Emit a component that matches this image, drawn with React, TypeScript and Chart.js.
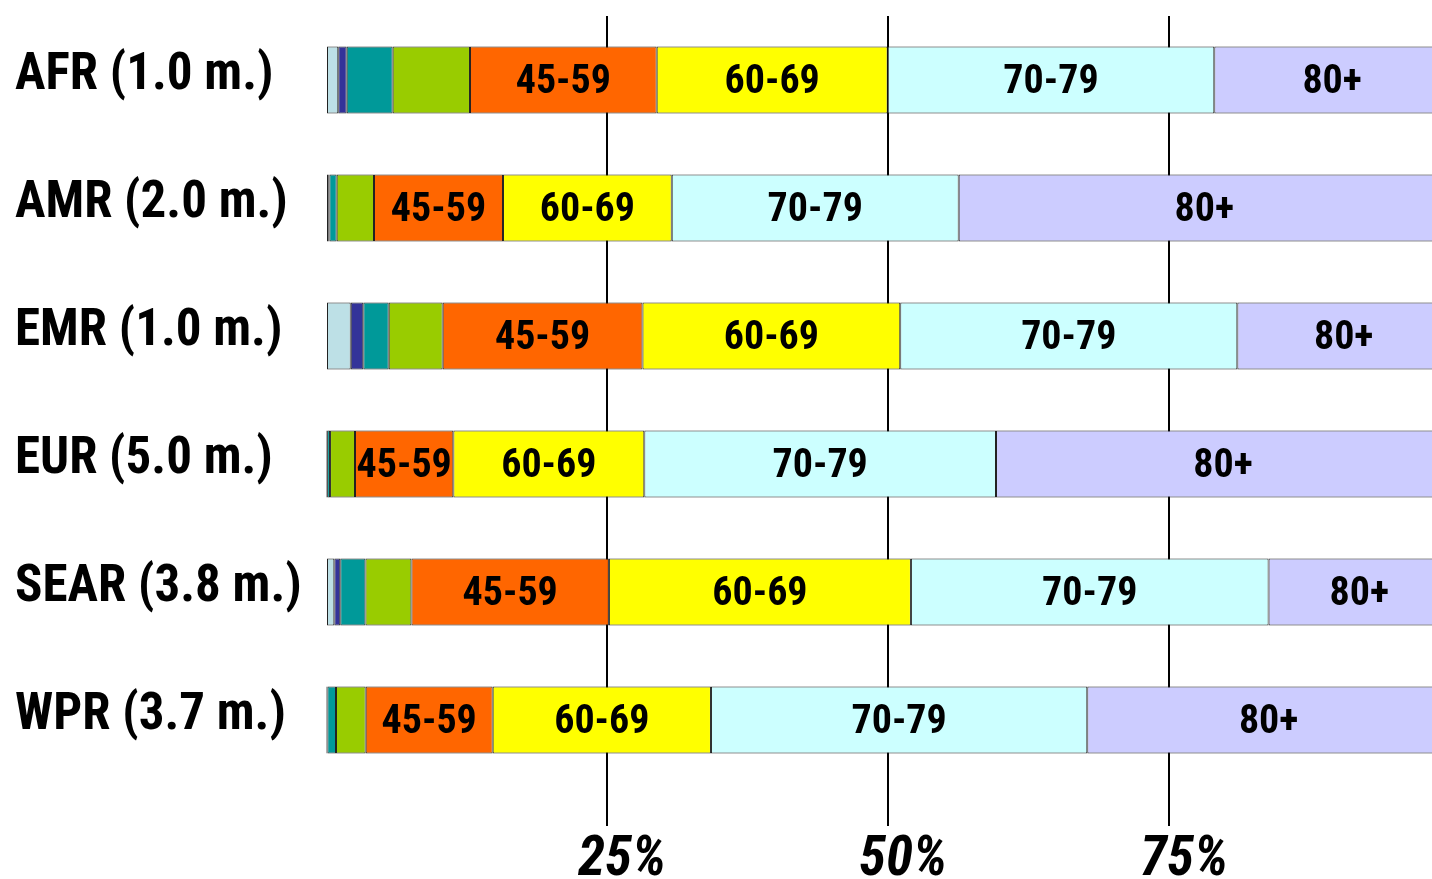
import React, { useEffect, useRef } from 'react';
import { Chart, registerables } from 'chart.js';

Chart.register(...registerables);

// Regions (deaths in millions) and age groups
const regions = ['AFR (1.0 m.)', 'AMR (2.0 m.)', 'EMR (1.0 m.)', 'EUR (5.0 m.)', 'SEAR (3.8 m.)', 'WPR (3.7 m.)'];
const ageGroups = ['0-4', '5-14', '15-29', '30-44', '45-59', '60-69', '70-79', '80+'];
const labeledGroups = ['45-59', '60-69', '70-79', '80+'];

// Percentage share of each age group, per region (AFR, AMR, EMR, EUR, SEAR, WPR)
const share0to4 = [1.09, 0.2, 2.2, 0.05, 0.74, 0.05];
const share5to14 = [0.75, 0.1, 1.12, 0.05, 0.53, 0.07];
const share15to29 = [4.09, 0.65, 2.26, 0.26, 2.24, 0.77];
const share30to44 = [6.88, 3.32, 4.8, 2.22, 4.09, 2.64];
const share45to59 = [16.61, 11.48, 17.78, 8.75, 17.57, 11.3];
const share60to69 = [20.55, 15.01, 22.93, 16.99, 26.87, 19.42];
const share70to79 = [29.06, 25.53, 29.99, 31.29, 31.82, 33.48];
const share80plus = [20.97, 43.71, 18.92, 40.39, 16.13, 32.27];

const groupColors = ['#BDE0E6', '#333399', '#009999', '#99CC00', '#FF6600', '#FFFF00', '#CCFFFF', '#CCCCFF'];
const xTickValues = [25, 50, 75];

const FONT = "'Roboto Condensed', 'Liberation Sans Narrow', 'Arial Narrow', 'Noto Sans', sans-serif";
const WEIGHT = 'bold condensed';

const segmentLabels = {
  id: 'segmentLabels',
  afterDatasetsDraw(chart: any) {
    const ctx = chart.ctx;
    ctx.save();
    ctx.font = `${WEIGHT} 40px ${FONT}`;
    ctx.fillStyle = '#000';
    ctx.textAlign = 'center';
    ctx.textBaseline = 'middle';
    chart.data.datasets.forEach((ds: any, i: number) => {
      if (!labeledGroups.includes(ds.label)) return;
      chart.getDatasetMeta(i).data.forEach((bar: any) => {
        const { x, y, base } = bar.getProps(['x', 'y', 'base'], true);
        ctx.fillText(ds.label, (x + base) / 2, y + 3);
      });
    });
    ctx.restore();
  },
};

export default function App() {
  const canvasRef = useRef<HTMLCanvasElement | null>(null);

  useEffect(() => {
    if (!canvasRef.current) return;
    const series = [share0to4, share5to14, share15to29, share30to44, share45to59, share60to69, share70to79, share80plus];
    const gridColor = (c: any) => (c.tick && xTickValues.includes(c.tick.value) ? '#000' : 'rgba(0,0,0,0)');
    const chart = new Chart(canvasRef.current, {
      type: 'bar',
      data: {
        labels: regions,
        datasets: ageGroups.map((g, i) => ({
          label: g,
          data: series[i],
          backgroundColor: groupColors[i],
          borderColor: '#222',
          borderWidth: 1,
          borderSkipped: false,
          categoryPercentage: 1,
          barPercentage: 0.5234,
        })),
      },
      options: {
        indexAxis: 'y',
        animation: false,
        responsive: false,
        layout: { padding: { left: 15, top: 16, right: 0, bottom: 0 } },
        plugins: {
          legend: { display: false },
          tooltip: { enabled: false },
          title: { display: false },
        },
        scales: {
          x: {
            stacked: true,
            min: 0,
            max: 98.4,
            border: { display: false },
            grid: {
              color: gridColor,
              tickColor: gridColor,
              lineWidth: 2,
              tickWidth: 2,
              drawTicks: true,
              tickLength: 42,
            },
            ticks: {
              stepSize: 25,
              includeBounds: false,
              autoSkip: false,
              maxRotation: 0,
              callback: (v: any) => (xTickValues.includes(v) ? v + '%' : ''),
              font: { family: FONT, size: 55, weight: WEIGHT, style: 'italic', lineHeight: 1 },
              color: '#000',
              padding: 8,
              labelOffset: 15,
            },
            afterFit: (s: any) => {
              s.height = 95;
              s.paddingLeft = 0;
              s.paddingRight = 0;
            },
          },
          y: {
            stacked: true,
            border: { display: false },
            grid: { display: false, drawTicks: false },
            ticks: {
              crossAlign: 'far',
              autoSkip: false,
              font: { family: FONT, size: 51, weight: WEIGHT },
              color: '#000',
              padding: 0,
              labelOffset: -4,
            },
            afterFit: (s: any) => {
              s.width = 311;
              s.paddingTop = 0;
              s.paddingBottom = 0;
            },
          },
        },
      } as any,
      plugins: [segmentLabels],
    });
    return () => chart.destroy();
  }, []);

  return (
    <div style={{ position: 'fixed', left: 0, top: 0, width: 1432, height: 879, background: '#fff' }}>
      <canvas ref={canvasRef} width={1432} height={879} style={{ display: 'block' }} />
    </div>
  );
}
